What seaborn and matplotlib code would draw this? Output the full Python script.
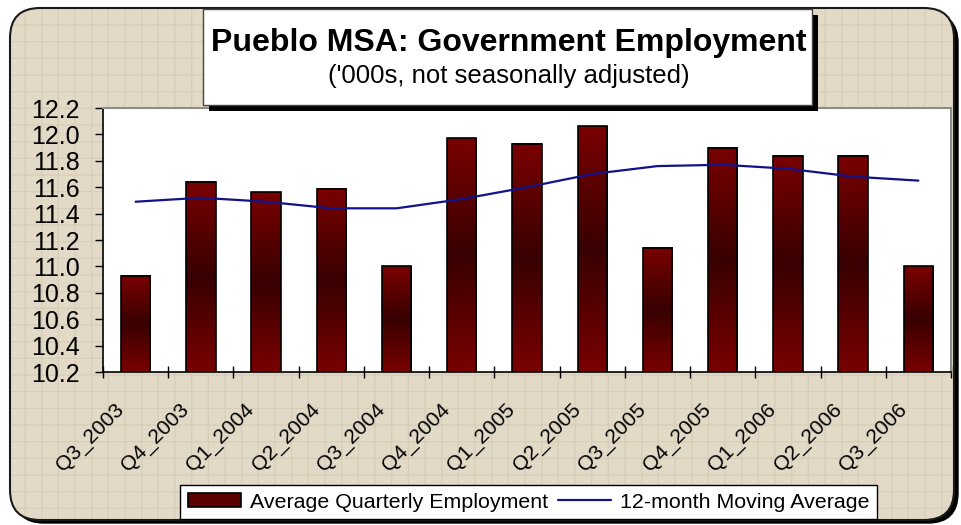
"""
Pueblo MSA government employment: quarterly bars with a 12-month moving average.
"""
import matplotlib
matplotlib.use("Agg")
import matplotlib.pyplot as plt
import matplotlib.patches as mpatches
import matplotlib.transforms as mtransforms
from matplotlib.lines import Line2D
from matplotlib.colors import LinearSegmentedColormap
import numpy as np
import pandas as pd
import seaborn as sns

QUARTERS = ["Q3_2003", "Q4_2003", "Q1_2004", "Q2_2004", "Q3_2004", "Q4_2004",
            "Q1_2005", "Q2_2005", "Q3_2005", "Q4_2005", "Q1_2006", "Q2_2006",
            "Q3_2006"]
AVG_QUARTERLY = [10.93, 11.64, 11.56, 11.59, 11.00, 11.97, 11.93, 12.06,
                 11.14, 11.90, 11.84, 11.84, 11.00]
MOVING_AVG = [11.49, 11.52, 11.49, 11.44, 11.44, 11.51, 11.60, 11.70,
              11.76, 11.77, 11.74, 11.68, 11.65]
Y_TICKS = [10.2, 10.4, 10.6, 10.8, 11.0, 11.2, 11.4, 11.6, 11.8, 12.0, 12.2]

TITLE = "Pueblo MSA: Government Employment"
SUBTITLE = "('000s, not seasonally adjusted)"
BAR_LABEL = "Average Quarterly Employment"
LINE_LABEL = "12-month Moving Average"

W, H, DPI = 962, 525, 100
BEIGE = "#e2d9c6"
RED = "#7a0000"
DARK = "#380000"
NAVY = "#12128a"


def main():
    sns.set_theme(style="white")
    plt.rcParams["font.family"] = ["Liberation Sans", "DejaVu Sans"]
    plt.rcParams["text.color"] = "black"
    plt.rcParams["xtick.color"] = "black"
    plt.rcParams["ytick.color"] = "black"
    plt.rcParams["hatch.linewidth"] = 0.8

    df = pd.DataFrame({"quarter": QUARTERS, "employment": AVG_QUARTERLY,
                       "moving_avg": MOVING_AVG})
    df["pos"] = np.arange(len(df))

    fig = plt.figure(figsize=(W / DPI, H / DPI), dpi=DPI)
    fig.patch.set_facecolor("white")
    ident = mtransforms.IdentityTransform()

    # outer frame: shadow, beige fill, faint linen texture, border
    box = dict(boxstyle="round,pad=0,rounding_size=30", transform=ident)
    fig.patches.append(mpatches.FancyBboxPatch(
        (14, 2), 944, 510, facecolor="black", edgecolor="black",
        zorder=-4, **box))
    fig.patches.append(mpatches.FancyBboxPatch(
        (10, 5), 944, 512, facecolor=BEIGE, edgecolor="none",
        zorder=-3, **box))
    fig.patches.append(mpatches.FancyBboxPatch(
        (10, 5), 944, 512, facecolor="none", edgecolor="#d6ccb7",
        linewidth=0, hatch="+", zorder=-2, **box))
    fig.patches.append(mpatches.FancyBboxPatch(
        (10, 5), 944, 512, facecolor="none", edgecolor="#1a1a1a",
        linewidth=1.5, zorder=-1, **box))

    ax = fig.add_axes([103 / W, 1 - 372 / H, (951 - 103) / W, (372 - 108) / H])
    ax.set_facecolor("white")

    sns.barplot(data=df, x="quarter", y="employment", ax=ax, width=0.45,
                color=RED, saturation=1, edgecolor="black", linewidth=1.2,
                zorder=3)

    # vertical red-dark-red gradient inside each bar
    cmap = LinearSegmentedColormap.from_list("bar", [RED, DARK, RED])
    grad = np.linspace(0, 1, 256).reshape(-1, 1)
    ymin = Y_TICKS[0]
    for bar in ax.patches:
        x0 = bar.get_x()
        x1 = x0 + bar.get_width()
        top = bar.get_y() + bar.get_height()
        ax.imshow(grad, cmap=cmap, aspect="auto", origin="lower",
                  extent=[x0, x1, ymin, top], zorder=2, interpolation="bilinear")
        bar.set_facecolor("none")

    sns.lineplot(data=df, x="pos", y="moving_avg", ax=ax, color=NAVY,
                 linewidth=1.6, zorder=4)

    ax.set_xlim(-0.5, len(QUARTERS) - 0.5)
    ax.set_ylim(Y_TICKS[0], Y_TICKS[-1])
    ax.set_yticks(Y_TICKS)
    ax.set_yticklabels([f"{v:.1f}" for v in Y_TICKS], fontsize=18)

    # category labels: rotated, set a little left of each bar like the original
    ax.set_xticks(df["pos"])
    ax.set_xticklabels([])
    lab_trans = mtransforms.offset_copy(ax.get_xaxis_transform(), fig=fig,
                                        x=-8, y=-28, units="dots")
    for pos, q in zip(df["pos"], QUARTERS):
        ax.text(pos, 0, q, transform=lab_trans, rotation=45, ha="right",
                va="top", fontsize=15.2, clip_on=False)

    ax.set_xticks(np.arange(-0.5, len(QUARTERS)), minor=True)
    ax.tick_params(axis="x", which="major", length=0)
    ax.tick_params(axis="x", which="minor", direction="inout", length=9,
                   width=1, color="black", bottom=True)
    ax.tick_params(axis="y", which="major", direction="out", length=6,
                   width=1, color="black", left=True, pad=11)
    ax.set_xlabel("")
    ax.set_ylabel("")
    for side in ("top", "right"):
        ax.spines[side].set_color("#8c8c8c")
        ax.spines[side].set_linewidth(1.5)
    for side in ("left", "bottom"):
        ax.spines[side].set_color("black")
        ax.spines[side].set_linewidth(1.2)
    ax.spines["bottom"].set_zorder(5)

    # title box with drop shadow
    fig.patches.append(mpatches.Rectangle(
        (209, H - 111), 609, 96, transform=ident, facecolor="black",
        edgecolor="none", zorder=1))
    fig.patches.append(mpatches.Rectangle(
        (203, H - 105), 609, 96, transform=ident, facecolor="white",
        edgecolor="#444444", linewidth=1, zorder=2))
    fig.text(509 / W, 1 - 51 / H, TITLE, ha="center", va="baseline",
             fontsize=23, fontweight="bold", zorder=3)
    fig.text(509 / W, 1 - 83 / H, SUBTITLE, ha="center", va="baseline",
             fontsize=18.5, zorder=3)

    handles = [mpatches.Patch(facecolor="#5a0000", edgecolor="black",
                              linewidth=1.2),
               Line2D([0], [0], color=NAVY, linewidth=1.6)]
    leg = fig.legend(handles, [BAR_LABEL, LINE_LABEL], ncol=2, loc="center",
                     bbox_to_anchor=(528.5 / W, 1 - 502 / H), fontsize=15.4,
                     frameon=True, fancybox=False, framealpha=1,
                     edgecolor="black", handlelength=2.5, handleheight=0.6,
                     columnspacing=0.45, handletextpad=0.4, borderpad=0.35,
                     borderaxespad=0)
    leg.get_frame().set_linewidth(1)

    fig.savefig("out.png", dpi=DPI)
    plt.close(fig)


if __name__ == "__main__":
    main()
